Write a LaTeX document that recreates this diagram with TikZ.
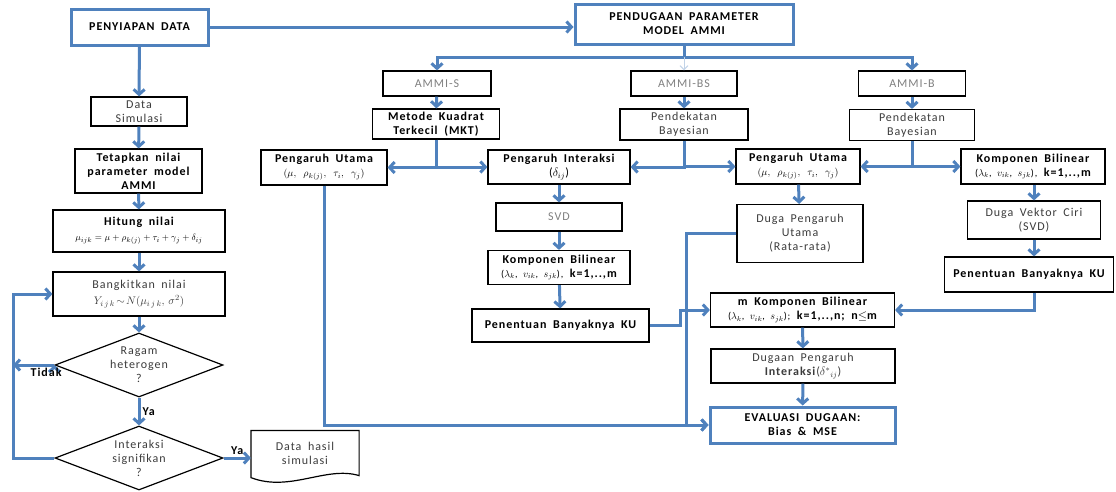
\documentclass[tikz,border=0pt]{standalone}
\usepackage{fontspec}
\setmainfont{Carlito}
\newfontfamily\spc[LetterSpace=8, WordSpace=1.8]{Carlito}
\usetikzlibrary{arrows.meta, positioning, shapes.geometric}

\definecolor{lineblue}{RGB}{79,129,189}
\definecolor{txtgray}{RGB}{60,60,60}

\tikzset{
	line/.style={color=lineblue, draw, line width=3pt},
	arr/.style={line, -{Straight Barb[length=5pt, width=11pt]}},
	box/.style={draw=black, line width=1.2pt, fill=white, align=center, inner sep=1pt,
		text=txtgray, font=\spc\fontsize{12}{14}\selectfont},
	bbox/.style={box, text=black, font=\spc\bfseries\fontsize{12}{14}\selectfont},
	bluebox/.style={bbox, draw=lineblue, line width=3pt},
	dec/.style={box, diamond, shape aspect=2.6, inner sep=-3pt},
	lbl/.style={text=black, font=\spc\bfseries\fontsize{12}{14}\selectfont, inner sep=2pt}
}

\begin{document}
\begin{tikzpicture}[x=1pt, y=-1pt]
\useasboundingbox (0,0) rectangle (1116,491);

% kolom kiri
\node (prep) [bluebox, minimum width=137, minimum height=36] at (139.5,27) {PENYIAPAN DATA};
\node (datasim) [box, minimum width=96, minimum height=29] at (139,111.5) {Data\\Simulasi};
\node (tetap) [bbox, minimum width=127, minimum height=44] at (138.5,171) {Tetapkan nilai\\parameter model\\AMMI};
\node (hitung) [bbox, minimum width=172, minimum height=42] at (139,231)
	{Hitung nilai\\[1pt] \mdseries\fontsize{9.5}{11}\selectfont$\mu_{ijk}=\mu+\rho_{k(j)}+\tau_i+\gamma_j+\delta_{ij}$};
\node (bangkit) [box, minimum width=172, minimum height=44] at (139,294)
	{Bangkitkan nilai\\[2pt] \fontsize{11}{13}\selectfont$Y_{i\,j\,k}\!\sim\! N(\mu_{i\,j\,k},\,\sigma^2)$};
\node (ragam) [dec, minimum width=168, minimum height=64] at (139,365) {Ragam\\heterogen\\?};
\node (sig) [dec, minimum width=168, minimum height=64] at (139,458) {Interaksi\\signifikan\\?};
\node (hasil) [box, draw=none, fill=none, minimum width=107, minimum height=44] at (305,453) {Data hasil\\simulasi};
\draw[black, line width=1.2pt] (hasil.south west) |- (hasil.north east) -- (hasil.south east)
	.. controls +(-33,-10) and +(39,15) .. ([yshift=-2pt]hasil.south west) -- cycle;
\coordinate (loop) at (13,458);

% kolom kanan
\node (pend) [bluebox, minimum width=218, minimum height=40] at (684,24) {PENDUGAAN PARAMETER\\MODEL AMMI};
\coordinate (split) at (684,57);

\node (ammis) [box, text=gray, minimum width=108, minimum height=25] at (437,83.5) {AMMI-S};
\node (ammibs) [box, text=gray, minimum width=106, minimum height=25] at (684,83.5) {AMMI-BS};
\node (ammib) [box, text=gray, minimum width=107, minimum height=25] at (912,83.5) {AMMI-B};

\node (mkt) [bbox, minimum width=127, minimum height=30] at (436,124) {Metode Kuadrat\\Terkecil (MKT)};
\node (bayes1) [box, minimum width=128, minimum height=31] at (684,124.5) {Pendekatan\\Bayesian};
\node (bayes2) [box, minimum width=125, minimum height=31] at (912,125) {Pendekatan\\Bayesian};

\node (utamaL) [bbox, minimum width=126, minimum height=35] at (324,167.5)
	{Pengaruh Utama\\ \mdseries\fontsize{10}{12}\selectfont$(\mu,\ \rho_{k(j)},\ \tau_i,\ \gamma_j)$};
\node (inter) [bbox, minimum width=142, minimum height=34] at (559,167) {Pengaruh Interaksi\\ \mdseries($\delta_{ij}$)};
\node (utamaM) [bbox, minimum width=124, minimum height=35] at (798,166.5)
	{Pengaruh Utama\\ \mdseries\fontsize{10}{12}\selectfont$(\mu,\ \rho_{k(j)},\ \tau_i,\ \gamma_j)$};
\node (kompR) [bbox, minimum width=144, minimum height=35] at (1033,166.5)
	{Komponen Bilinear\\ {\mdseries\fontsize{10}{12}\selectfont($\lambda_k$, $v_{ik}$, $s_{jk}$),} k=1,..,m};

\node (svd) [box, text=gray, minimum width=126, minimum height=28] at (559,217) {SVD};
\node (kompM) [bbox, minimum width=142, minimum height=34] at (559,267.5)
	{Komponen Bilinear\\ {\mdseries\fontsize{10}{12}\selectfont($\lambda_k$, $v_{ik}$, $s_{jk}$),} k=1,..,m};
\node (penM) [bbox, minimum width=177, minimum height=33] at (560.5,325.5) {Penentuan Banyaknya KU};

\node (dugaU) [box, minimum width=126, minimum height=58] at (800,233.5) {Duga Pengaruh\\Utama\\(Rata-rata)};
\node (vektor) [box, minimum width=133, minimum height=38] at (1034,220) {Duga Vektor Ciri\\(SVD)};
\node (penR) [bbox, minimum width=169, minimum height=35] at (1029,274.5) {Penentuan Banyaknya KU};

\node (mkomp) [bbox, minimum width=184, minimum height=34] at (802.5,310)
	{m Komponen Bilinear\\ {\mdseries\fontsize{10}{12}\selectfont($\lambda_k$, $v_{ik}$, $s_{jk}$);} k=1,..,n; n$\le$m};
\node (dugI) [box, minimum width=184, minimum height=34] at (803,366)
	{Dugaan Pengaruh\\ \textbf{Interaksi}($\delta^{*}{}_{ij}$)};
\node (eval) [bluebox, minimum width=185, minimum height=36] at (802.5,425) {EVALUASI DUGAAN:\\Bias \& MSE};

% alur kiri
\path[arr]
	(prep.east) edge (prep.east -| pend.west)
	(prep) edge (datasim)
	(datasim) edge (tetap)
	(tetap) edge (hitung)
	(hitung) edge (bangkit)
	(bangkit) edge (ragam)
	(ragam) edge node[lbl, right] {Ya} (sig)
	(sig.east) edge node[lbl, above] {Ya} (sig.east -| hasil.west)
	(ragam.west) edge node[lbl, below, pos=0.2] {Tidak} (ragam.west -| loop);
\draw[arr] (sig.west) -- (loop) |- (bangkit.west);

% alur kanan
\draw[line] (pend) -- (split);
\draw[arr] (split) -| (ammis);
\draw[arr] (split) -| (ammib);
\draw[color=lineblue!35, line width=1pt, -{Straight Barb[length=4pt, width=8pt]}] (split) -- (ammibs);

\path[arr]
	(ammis) edge (mkt)
	(ammibs) edge (bayes1)
	(ammib) edge (bayes2)
	(inter) edge (svd)
	(svd) edge (kompM)
	(kompM) edge (penM)
	(utamaM) edge (dugaU)
	(mkomp) edge (dugI)
	(dugI) edge (eval);

\draw[arr] (kompR.south -| vektor.north) -- (vektor.north);
\draw[arr] (vektor.south) -- (vektor.south |- penR.north);

\draw[arr] (mkt.south) |- (utamaL.east);
\draw[arr] (mkt.south) |- (inter.west);
\draw[arr] (bayes1.south) |- (inter.east);
\draw[arr] (bayes1.south) |- (utamaM.west);
\draw[arr] (bayes2.south) |- (utamaM.east);
\draw[arr] (bayes2.south) |- (kompR.west);

\draw[arr] (penR.south -| vektor.south) |- (mkomp.east);
\draw[arr] (penM.east) -- ++(31,0) |- (mkomp.west);
\draw[arr] (utamaL.south) |- (eval.west);
\draw[arr] (dugaU.west) -- ++(-50,0) |- (eval.west);

\end{tikzpicture}
\end{document}
